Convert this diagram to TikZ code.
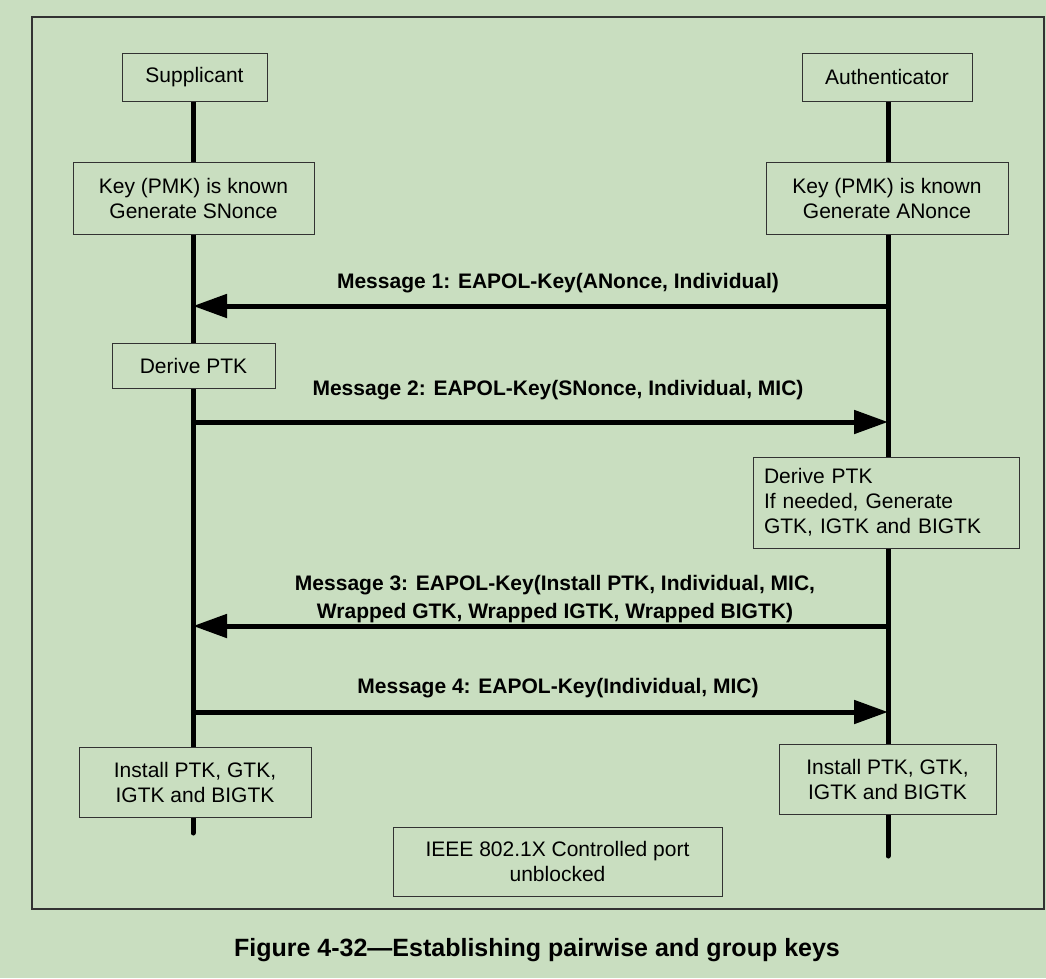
\documentclass[tikz,border=0pt]{standalone}
\usepackage{fontspec}
\setmainfont{Liberation Sans}
\usetikzlibrary{arrows.meta}
\pgfdeclarelayer{bglayer}
\pgfdeclarelayer{background}
\pgfsetlayers{bglayer,background,main}
\definecolor{bgc}{RGB}{201,222,192}
\definecolor{edge}{RGB}{50,50,50}
\begin{document}
\begin{tikzpicture}[x=1pt,y=-1pt,
  every node/.style={font=\fontsize{21}{25}\selectfont, text=black},
  box/.style={draw=edge, line width=1pt, fill=bgc, align=center, inner sep=0pt},
  life/.style={line width=5pt, line cap=round},
  msg/.style={line width=5pt, -{Triangle[length=34pt,width=23pt]}},
  lbl/.style={font=\fontsize{21}{28}\selectfont\bfseries, align=center}]
\begin{pgfonlayer}{bglayer}
\fill[bgc] (0,0) rectangle (1046,978);
\end{pgfonlayer}
\useasboundingbox (0,0) rectangle (1046,978);
\draw[edge, line width=1.3pt] (32,17) rectangle (1044,909);

\node[box, minimum width=145pt, minimum height=48pt] (sup) at (194.5,77) {Supplicant};
\node[box, minimum width=170pt, minimum height=48pt] (auth) at (887,77) {Authenticator};
\node[box, minimum width=241pt, minimum height=72pt] (key1) at (193.5,198) {Key (PMK) is known\\Generate SNonce};
\node[box, minimum width=242pt, minimum height=72pt] (key2) at (887,198) {Key (PMK) is known\\Generate ANonce};
\node[box, minimum width=163pt, minimum height=45pt] (der1) at (193.5,365.5) {Derive PTK};
\node[box, minimum width=266pt, minimum height=91pt, align=left, text width=244pt] (der2) at (886,502.5) {Derive PTK\\If needed, Generate\\GTK, IGTK and BIGTK};
\node[box, minimum width=232pt, minimum height=70pt] (ins1) at (195,782) {Install PTK, GTK,\\IGTK and BIGTK};
\node[box, minimum width=217pt, minimum height=70pt] (ins2) at (887.5,779) {Install PTK, GTK,\\IGTK and BIGTK};
\node[box, minimum width=329pt, minimum height=69pt] (port) at (557.5,861.5) {IEEE 802.1X Controlled port\\unblocked};

\coordinate (supend) at (193,833);
\coordinate (authend) at (888,856);
\coordinate (s1) at (193,306);  \coordinate (a1) at (888,306);
\coordinate (s2) at (193,422);  \coordinate (a2) at (888,422);
\coordinate (s3) at (193,626);  \coordinate (a3) at (888,626);
\coordinate (s4) at (193,712);  \coordinate (a4) at (888,712);

\begin{pgfonlayer}{background}
\draw[life] (sup.south -| supend) -- (supend);
\draw[life] (auth.south -| authend) -- (authend);
\end{pgfonlayer}

\draw[msg] (a1) -- (s1);
\draw[msg] (s2) -- (a2);
\draw[msg] (a3) -- (s3);
\draw[msg] (s4) -- (a4);

\node[lbl] (l1) at (558,283) {Message 1: EAPOL-Key(ANonce, Individual)};
\node[lbl] (l2) at (558,390) {Message 2: EAPOL-Key(SNonce, Individual, MIC)};
\node[lbl] (l3) at (555,599) {Message 3: EAPOL-Key(Install PTK, Individual, MIC,\\Wrapped GTK, Wrapped IGTK, Wrapped BIGTK)};
\node[lbl] (l4) at (558,688) {Message 4: EAPOL-Key(Individual, MIC)};

\node[font=\fontsize{25}{30}\selectfont\bfseries] (cap) at (537,950) {Figure 4-32—Establishing pairwise and group keys};
\end{tikzpicture}
\end{document}
